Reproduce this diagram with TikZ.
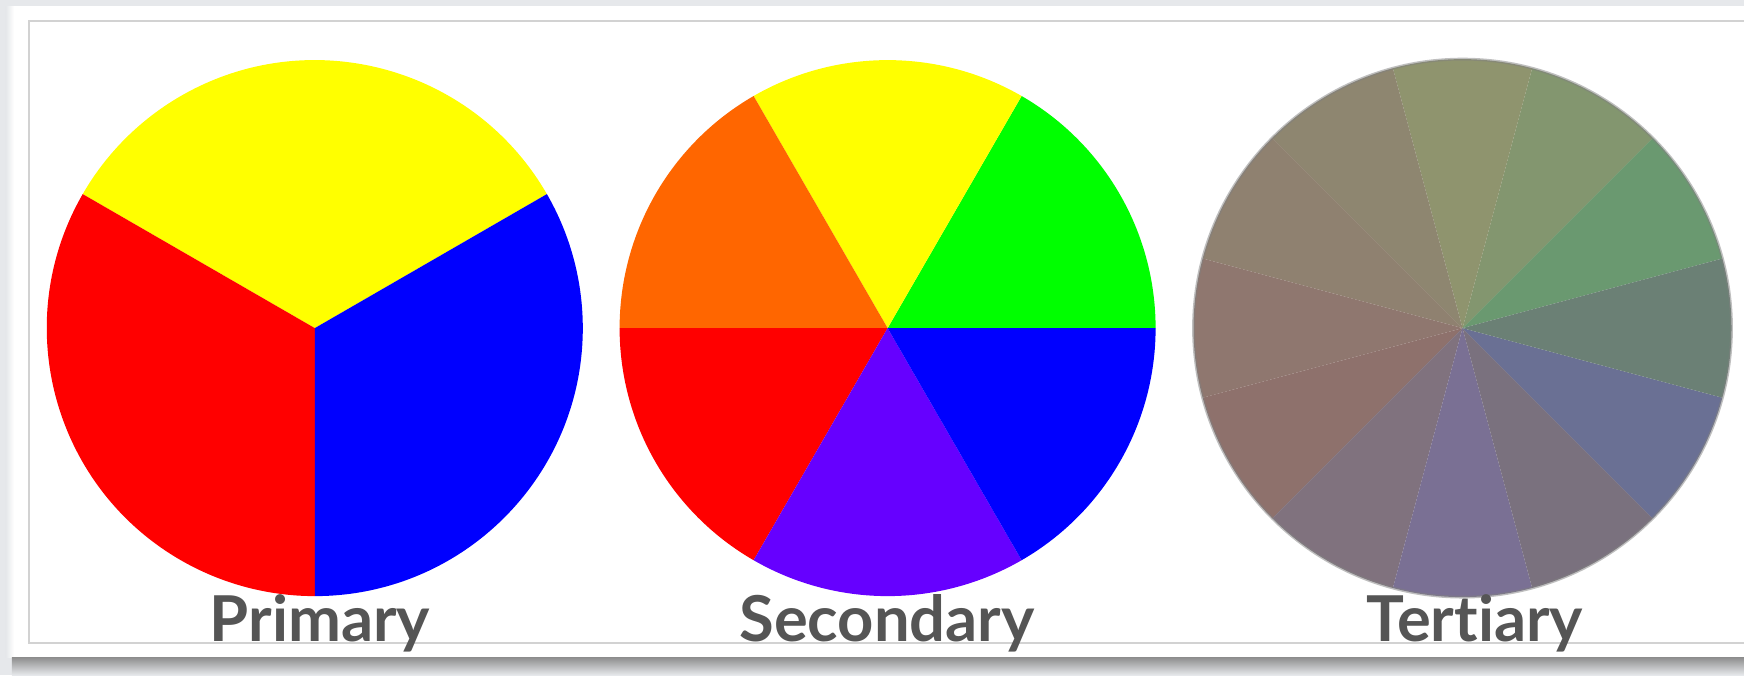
\documentclass[tikz,border=0pt]{standalone}
\usepackage{fontspec}
\setsansfont{Lato}[Ligatures=NoCommon]
\usetikzlibrary{positioning}

\definecolor{pagebg}{HTML}{E6E8EB}
\definecolor{framegray}{HTML}{D2D2D2}
\definecolor{labelgray}{HTML}{555555}
% primary and secondary hues
\definecolor{pyellow}{RGB}{255,255,0}
\definecolor{pred}{RGB}{255,0,0}
\definecolor{pblue}{RGB}{0,0,255}
\definecolor{sgreen}{RGB}{0,255,0}
\definecolor{sorange}{RGB}{255,102,0}
\definecolor{spurple}{RGB}{102,0,255}
% tertiary hues
\definecolor{tA}{RGB}{106,153,112}
\definecolor{tB}{RGB}{131,150,111}
\definecolor{tC}{RGB}{143,148,110}
\definecolor{tD}{RGB}{142,134,112}
\definecolor{tE}{RGB}{143,129,112}
\definecolor{tF}{RGB}{143,119,111}
\definecolor{tG}{RGB}{142,113,108}
\definecolor{tH}{RGB}{128,114,126}
\definecolor{tI}{RGB}{122,112,148}
\definecolor{tJ}{RGB}{122,113,126}
\definecolor{tK}{RGB}{106,112,148}
\definecolor{tL}{RGB}{107,128,117}

\begin{document}
\begin{tikzpicture}[lbl/.style={font=\sffamily\bfseries\fontsize{18}{18}\selectfont, text=labelgray, inner sep=0pt, anchor=base}]
% Page and panel
\fill[pagebg] (0,0) rectangle (17.44,-6.75);
\useasboundingbox (0,0) rectangle (17.44,-6.75);
\shade[left color=pagebg, right color=white] (0.06,-0.06) rectangle (0.14,-6.57);
\fill[white] (0.14,-0.06) rectangle (17.44,-6.57);
\shade[top color=black!45, bottom color=pagebg] (0.12,-6.57) rectangle (17.44,-6.75);
\draw[framegray, line width=0.7pt] (17.44,-0.21) -- (0.29,-0.21) -- (0.29,-6.43) -- (17.44,-6.43);
% Wheel centres
\coordinate (prim) at (3.148,-3.281);
\coordinate (sec) at (8.876,-3.281);
\coordinate (tert) at (14.625,-3.281);
% Primary wheel
\foreach \a/\c in {30/pyellow,150/pred,270/pblue}
  \fill[\c] (prim) -- ++(\a:2.68) arc[start angle=\a, delta angle=120, radius=2.68] -- cycle;
% Secondary wheel
\foreach \a/\c in {0/sgreen,60/pyellow,120/sorange,180/pred,240/spurple,300/pblue}
  \fill[\c] (sec) -- ++(\a:2.68) arc[start angle=\a, delta angle=60, radius=2.68] -- cycle;
% Tertiary wheel
\foreach \a/\c in {15/tA,45/tB,75/tC,105/tD,135/tE,165/tF,195/tG,225/tH,255/tI,285/tJ,315/tK,345/tL}
  \fill[\c] (tert) -- ++(\a:2.69) arc[start angle=\a, delta angle=30, radius=2.69] -- cycle;
\draw[gray, opacity=0.5, line width=0.8pt] (tert) circle[radius=2.69];
% Labels
\node[lbl] (lprim) at (3.20,-6.41) {Primary};
\node[lbl] (lsec) at (8.87,-6.41) {Secondary};
\node[lbl] (ltert) at (14.75,-6.41) {Tertiary};
\end{tikzpicture}
\end{document}
